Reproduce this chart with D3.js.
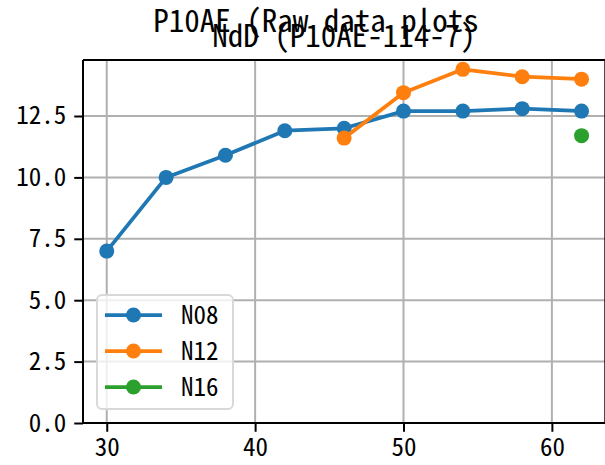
<!DOCTYPE html>
<html><head><meta charset="utf-8">
<script src="https://cdn.jsdelivr.net/npm/d3@7"></script>
<style>
html,body{margin:0;padding:0;background:#fff;}
svg text{font-family:"Noto Sans CJK JP",sans-serif;font-feature-settings:"hwid" 1;}
</style></head>
<body>
<svg id="c" width="605" height="465"></svg>
<script>
const xN08 = [30,34,38,42,46,50,54,58,62];
const yN08 = [7.0,10.0,10.9,11.9,12.0,12.7,12.7,12.8,12.7];
const xN12 = [46,50,54,58,62];
const yN12 = [11.6,13.45,14.4,14.1,14.0];
const xN16 = [62];
const yN16 = [11.7];
const seriesNames = ["N08","N12","N16"];
const colors = ["#1f77b4","#ff7f0e","#2ca02c"];
const xTicks = [30,40,50,60];
const yTicks = [0,2.5,5,7.5,10,12.5];
const suptitle = "P10AE (Raw data plots";
const axTitle = "NdD (P10AE-114-7)";

const svg = d3.select("#c");
const L=83, R=605.3, T=60, B=423;
const x = d3.scaleLinear().domain([28.4,63.6]).range([L,R]);
const y = d3.scaleLinear().domain([0,14.78]).range([B,T]);

// grid
const g = svg.append("g");
g.selectAll(".gx").data(xTicks).join("line")
 .attr("x1",d=>x(d)).attr("x2",d=>x(d)).attr("y1",T).attr("y2",B)
 .attr("stroke","#b0b0b0").attr("stroke-width",2);
g.selectAll(".gy").data(yTicks).join("line")
 .attr("x1",L).attr("x2",R).attr("y1",d=>y(d)).attr("y2",d=>y(d))
 .attr("stroke","#b0b0b0").attr("stroke-width",2);

const series = [
 {name:seriesNames[0], xs:xN08, ys:yN08, c:colors[0]},
 {name:seriesNames[1], xs:xN12, ys:yN12, c:colors[1]},
 {name:seriesNames[2], xs:xN16, ys:yN16, c:colors[2]}
];
const line = d3.line().x(d=>x(d[0])).y(d=>y(d[1]));
series.forEach(s=>{
  const pts = s.xs.map((v,i)=>[v,s.ys[i]]);
  svg.append("path").attr("d",line(pts)).attr("fill","none")
    .attr("stroke",s.c).attr("stroke-width",3.75).attr("stroke-linejoin","round").attr("stroke-linecap","square");
  svg.selectAll(null).data(pts).join("circle")
    .attr("cx",d=>x(d[0])).attr("cy",d=>y(d[1])).attr("r",7.5).attr("fill",s.c);
});

// axes
const xa = svg.append("g").attr("transform",`translate(0,${B})`)
  .call(d3.axisBottom(x).tickValues(xTicks).tickSize(8.75).tickPadding(6).tickFormat(d3.format("d")));
const ya = svg.append("g").attr("transform",`translate(${L},0)`)
  .call(d3.axisLeft(y).tickValues(yTicks).tickSize(8.75).tickPadding(8).tickFormat(d3.format(".1f")));
[xa,ya].forEach(a=>{
  a.select(".domain").remove();
  a.selectAll(".tick line").attr("stroke","#000").attr("stroke-width",2);
  a.selectAll(".tick text").attr("fill","#000").attr("font-size",25);
});
// spines
svg.append("line").attr("x1",L).attr("x2",L).attr("y1",T).attr("y2",B).attr("stroke","#000").attr("stroke-width",2);
svg.append("line").attr("x1",L).attr("x2",R).attr("y1",B).attr("y2",B).attr("stroke","#000").attr("stroke-width",2);
svg.append("line").attr("x1",L).attr("x2",R).attr("y1",T).attr("y2",T).attr("stroke","#000").attr("stroke-width",2);
svg.append("line").attr("x1",R).attr("x2",R).attr("y1",T).attr("y2",B).attr("stroke","#000").attr("stroke-width",2);

// legend
const lg = svg.append("g");
lg.append("rect").attr("x",97).attr("y",295).attr("width",136).attr("height",114).attr("rx",5)
  .attr("fill","rgba(255,255,255,0.8)").attr("stroke","#d9d9d9").attr("stroke-width",2);
series.forEach((s,i)=>{
  const yy = 315 + i*36;
  lg.append("line").attr("x1",105).attr("x2",162).attr("y1",yy).attr("y2",yy).attr("stroke",s.c).attr("stroke-width",3.75);
  lg.append("circle").attr("cx",133.5).attr("cy",yy).attr("r",7.5).attr("fill",s.c);
  lg.append("text").attr("x",181).attr("y",yy).attr("dy","0.36em").attr("font-size",25).attr("fill","#000").text(s.name);
});

// titles
svg.append("text").attr("x",316).attr("y",32).attr("text-anchor","middle").attr("font-size",31).attr("fill","#000").text(suptitle);
svg.append("text").attr("x",344).attr("y",47).attr("text-anchor","middle").attr("font-size",31).attr("fill","#000").text(axTitle);
</script>
</body></html>
